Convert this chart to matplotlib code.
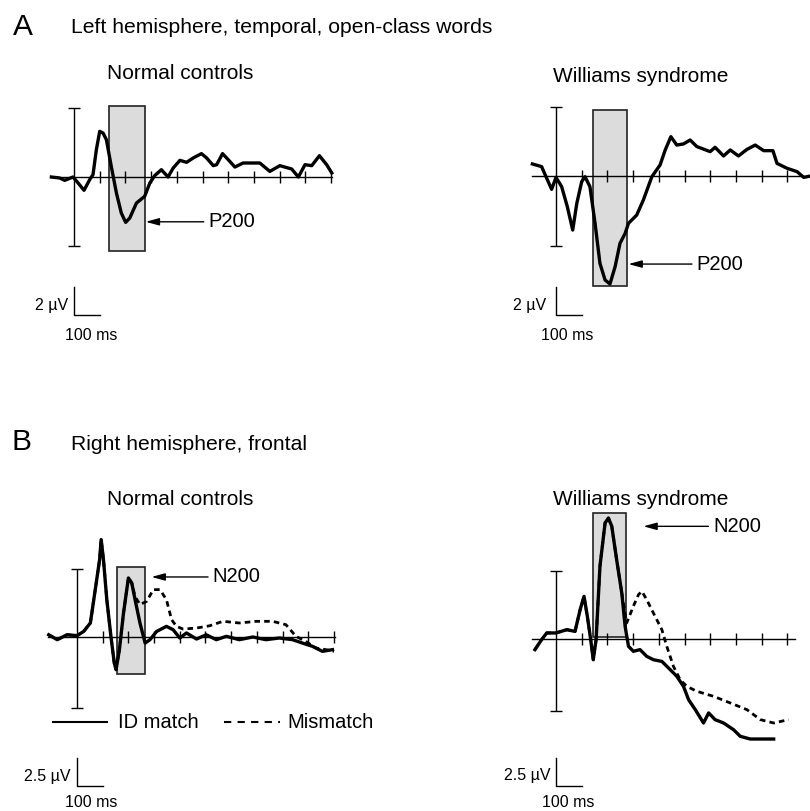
import numpy as np
import matplotlib
matplotlib.use('Agg')
import matplotlib.pyplot as plt
from matplotlib.patches import Rectangle

plt.rcParams['font.family'] = ['Liberation Sans', 'DejaVu Sans']

# Panel A, left hemisphere temporal, open-class words (uV, negative plotted up)
a_nc_t = [-88, -56, -36, -4, 16, 39, 61, 74, 87, 100, 113, 126, 145, 165, 184, 201, 217, 243,
          275, 295, 314, 340, 366, 386, 412, 438, 464, 496, 516, 542, 555, 578, 600, 626, 658,
          723, 762, 801, 847, 873, 899, 925, 955, 983, 1003]
a_nc_v = [0, 0.07, 0.24, 0, 0.43, 0.95, 0.19, -0.17, -1.95, -3.26, -3.14, -2.67, -0.76, 1.14,
          2.57, 3.24, 2.93, 1.86, 1.38, 0.43, -0.1, -0.52, 0, -0.64, -1.19, -1.05, -1.36, -1.67,
          -1.36, -0.81, -0.88, -1.67, -1.24, -0.71, -1.0, -1.0, -0.4, -0.81, -0.57, 0, -0.88,
          -0.81, -1.52, -0.88, -0.29]

a_ws_t = [-92, -56, -36, -17, 0, 22, 44, 65, 81, 100, 113, 132, 152, 171, 191, 210, 230, 249,
          269, 282, 314, 340, 373, 405, 425, 447, 470, 496, 522, 548, 600, 619, 652, 678, 710,
          743, 775, 808, 844, 860, 899, 938, 964, 990, 1010]
a_ws_v = [-0.86, -0.67, 0.17, 0.95, 0.1, 0.76, 2.19, 3.86, 1.95, 0.4, 0.05, 0.76, 3.38, 6.24,
          7.43, 7.71, 6.48, 4.81, 4.1, 3.38, 2.79, 1.71, 0.05, -0.79, -1.86, -2.81, -2.21, -2.29,
          -2.57, -2.1, -1.74, -2.05, -1.43, -1.86, -1.43, -1.9, -2.21, -1.81, -1.81, -0.9, -0.55,
          -0.31, 0.1, 0.0, 0.1]

# Panel B, right hemisphere frontal
b_nc_t = [-110, -77, -39, 0, 26, 52, 71, 88, 94, 103, 116, 132, 145, 152, 165, 181, 200, 213,
          226, 245, 265, 284, 310, 348, 374, 400, 426, 465, 503, 542, 581, 632, 684, 735, 787,
          839, 877, 916, 955, 994]
b_nc_match = [-0.2, 0.24, -0.2, -0.12, -0.5, -1.25, -4.23, -6.9, -8.7, -6.9, -3.33, -0.06,
              2.32, 2.92, 1.13, -2.14, -5.27, -4.82, -3.33, -1.25, 0.54, 0.24, -0.5, -0.95,
              -0.65, 0.09, -0.36, 0.18, -0.2, 0.24, -0.06, 0.24, 0, 0.24, 0.09, 0.24, 0.54,
              0.83, 1.28, 1.13]
b_nc_mis_t = [-110, -77, -39, 0, 26, 52, 71, 88, 94, 103, 116, 132, 145, 152, 165, 181, 200,
              213, 226, 245, 271, 297, 323, 348, 368, 387, 413, 465, 516, 568, 632, 697, 761,
              813, 852, 890, 929, 968, 1000]
b_nc_mis = [-0.2, 0.24, -0.2, -0.12, -0.5, -1.25, -4.23, -6.9, -8.7, -6.9, -3.33, -0.06, 2.32,
            2.92, 1.13, -2.14, -5.27, -4.82, -3.6, -2.9, -3.18, -4.23, -4.23, -3.33, -1.55,
            -0.95, -0.71, -0.8, -1.0, -1.4, -1.25, -1.4, -1.4, -1.1, -0.06, 0.39, 0.98, 1.13,
            1.28]

b_ws_t = [-82, -56, -36, 0, 42, 74, 94, 109, 122, 135, 145, 156, 171, 191, 204, 217, 236, 256,
          269, 282, 301, 327, 353, 379, 412, 438, 470, 496, 516, 542, 574, 594, 619, 652, 691,
          717, 756, 795, 847]
b_ws_match = [0.95, 0.06, -0.54, -0.54, -0.83, -0.68, -2.62, -3.81, -2.02, 0.06, 1.85, 0.06,
              -6.49, -10.36, -10.8, -10.06, -7.08, -4.1, -1.13, 0.65, 1.1, 0.95, 1.55, 1.85,
              2.0, 2.59, 3.33, 4.23, 5.42, 6.31, 7.5, 6.6, 7.2, 7.5, 8.1, 8.69, 8.93, 8.93, 8.93]
b_ws_mis_t = [-82, -56, -36, 0, 42, 74, 94, 109, 122, 135, 145, 156, 171, 191, 204, 217, 236,
              256, 275, 301, 321, 334, 353, 379, 412, 431, 457, 483, 509, 548, 613, 678, 743,
              795, 847, 905]
b_ws_mis = [0.95, 0.06, -0.54, -0.54, -0.83, -0.68, -2.62, -3.81, -2.02, 0.06, 1.85, 0.06,
            -6.49, -10.36, -10.8, -10.06, -7.08, -4.1, -1.43, -2.92, -3.96, -4.26, -3.51, -2.32,
            -0.83, 0.65, 2.44, 3.63, 4.23, 4.67, 5.12, 5.71, 6.31, 7.2, 7.5, 7.2]

W, H = 810, 811
PX_MS = 0.257

fig = plt.figure(figsize=(W / 100, H / 100), dpi=100)


def panel(x0, y0, k):
    # one transparent axes over the whole figure, time 0 / 0 uV at pixel (x0, y0)
    ax = fig.add_axes([0, 0, 1, 1])
    ax.set_xlim(-x0 / PX_MS, (W - x0) / PX_MS)
    ax.set_ylim((H - y0) / k, -y0 / k)
    ax.axis('off')
    return ax


def frame(ax, k, t0, t1, bar_lo, bar_hi, ticks):
    ax.plot([t0, t1], [0, 0], color='k', lw=1.0, zorder=2)
    ax.vlines(ticks, -6 / k, 6 / k, color='k', lw=1.0, zorder=2)
    ax.vlines(0, bar_lo, bar_hi, color='k', lw=1.0, zorder=2)
    ax.hlines([bar_lo, bar_hi], -22, 22, color='k', lw=1.0, zorder=2)


def box(ax, t0, t1, v0, v1):
    ax.add_patch(Rectangle((t0, v0), t1 - t0, v1 - v0, fc='#dcdcdc', ec='#222222',
                           lw=1.2, zorder=1))


def arrow(ax, tip, tail_t, label):
    ax.annotate('', xy=tip, xytext=(tail_t, tip[1]),
                arrowprops=dict(arrowstyle='-|>,head_length=0.8,head_width=0.22',
                                color='k', lw=1.0, shrinkA=0, shrinkB=0))
    ax.text(tail_t + 18, tip[1], label, ha='left', va='center', fontsize=14.5)


def scalebar(ax, v_lo, v_hi, ulabel, lab_t, ms_t, ms_v):
    ax.plot([0, 0, 100], [v_lo, v_hi, v_hi], color='k', lw=1.0)
    ax.text(lab_t, (v_lo + v_hi) / 2 + 0.15 * (v_hi - v_lo), ulabel, ha='right',
            va='center', fontsize=11.5)
    ax.text(ms_t, ms_v, '100 ms', ha='center', va='center', fontsize=11.5)


ticks10 = np.arange(100, 1001, 100)

# A - normal controls
ax = panel(74, 177, 14)
box(ax, 138, 276, -5.1, 5.3)
frame(ax, 14, -88, 1005, -4.95, 4.95, ticks10)
ax.plot(a_nc_t, a_nc_v, color='k', lw=2.4, zorder=3, solid_joinstyle='round')
arrow(ax, (279, 3.2), 505, 'P200')
scalebar(ax, 7.86, 9.86, '2 \u00b5V', -23, 66, 11.3)

# A - Williams syndrome
ax = panel(556, 176, 14)
box(ax, 145, 275, -4.7, 7.86)
frame(ax, 14, -93, 1010, -4.95, 5.0, ticks10)
ax.plot(a_ws_t, a_ws_v, color='k', lw=2.4, zorder=3, solid_joinstyle='round')
arrow(ax, (282, 6.29), 529, 'P200')
scalebar(ax, 7.93, 9.93, '2 \u00b5V', -40, 43, 11.36)

# B - normal controls
ax = panel(77, 637, 11.2)
box(ax, 155, 265, -6.25, 3.27)
frame(ax, 11.2, -113, 1004, -6.1, 6.3, ticks10)
ax.plot(b_nc_mis_t, b_nc_mis, color='k', lw=2.0, ls=(0, (2, 1.5)), zorder=3)
ax.plot(b_nc_t, b_nc_match, color='k', lw=2.4, zorder=4, solid_joinstyle='round')
arrow(ax, (290, -5.36), 510, 'N200')
scalebar(ax, 10.8, 13.3, '2.5 \u00b5V', -27, 54, 14.8)
ax.plot([-93, 117], [7.6, 7.6], color='k', lw=1.5)
ax.text(160, 7.6, 'ID match', ha='left', va='center', fontsize=14.5)
ax.plot([572, 790], [7.6, 7.6], color='k', lw=1.5, ls=(0, (3.5, 3)))
ax.text(817, 7.6, 'Mismatch', ha='left', va='center', fontsize=14.5)

# B - Williams syndrome
ax = panel(556, 639, 11.2)
box(ax, 143, 274, -11.25, -0.18)
frame(ax, 11.2, -93, 930, -6.1, 6.4, np.arange(100, 901, 100))
ax.plot(b_ws_mis_t, b_ws_mis, color='k', lw=2.0, ls=(0, (2, 1.5)), zorder=3)
ax.plot(b_ws_t, b_ws_match, color='k', lw=2.4, zorder=4, solid_joinstyle='round')
arrow(ax, (340, -10.06), 593, 'N200')
scalebar(ax, 10.6, 13.1, '2.5 \u00b5V', -23, 47, 14.6)

# headers
def ftext(x, y, s, **kw):
    fig.text(x / W, 1 - y / H, s, va='baseline', **kw)

ftext(13, 35, 'A', fontsize=21.5)
ftext(71, 33, 'Left hemisphere, temporal, open-class words', fontsize=15.2)
ftext(180, 79, 'Normal controls', fontsize=15, ha='center')
ftext(641, 82, 'Williams syndrome', fontsize=15, ha='center')
ftext(12, 450, 'B', fontsize=21.5)
ftext(71, 450, 'Right hemisphere, frontal', fontsize=15.2)
ftext(180, 505, 'Normal controls', fontsize=15, ha='center')
ftext(641, 505, 'Williams syndrome', fontsize=15, ha='center')

fig.savefig('out.png', dpi=100)
